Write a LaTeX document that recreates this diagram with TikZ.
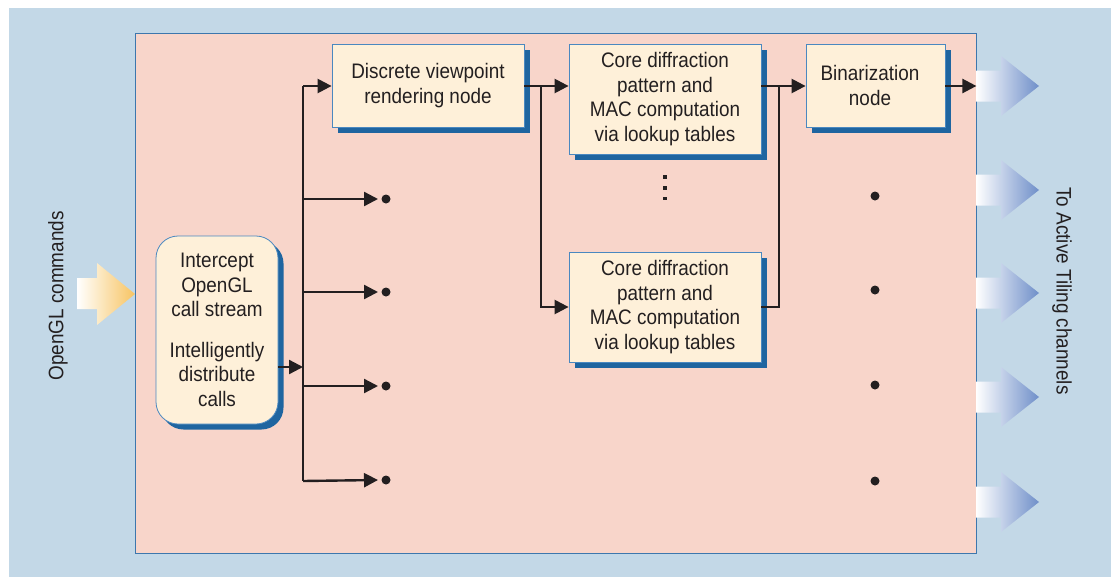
\documentclass[tikz,border=0pt]{standalone}
\usepackage{fontspec}
\setmainfont{Liberation Sans}[FakeStretch=0.9]
\usetikzlibrary{arrows.meta,shadows}

\definecolor{bgside}{HTML}{C3D8E7}
\definecolor{bgmid}{HTML}{DFE9F3}
\definecolor{pinkfill}{HTML}{F8D5CA}
\definecolor{frameline}{HTML}{3D77AD}
\definecolor{cream}{HTML}{FEF0D9}
\definecolor{boxline}{HTML}{4A88C0}
\definecolor{shadowblue}{HTML}{1F65A0}
\definecolor{ink}{HTML}{231F20}
\definecolor{outblue}{HTML}{6F8FC9}
\definecolor{inorange}{HTML}{F7C462}

\tikzset{
  txt/.style={font=\fontsize{21}{24.5}\selectfont, text=ink},
  procbox/.style={txt, draw=boxline, line width=0.8pt, fill=cream, align=center,
    inner sep=0pt,
    general shadow={fill=shadowblue, shadow xshift=5.5pt, shadow yshift=-5.5pt}},
  arr/.style={draw=ink, line width=2.4pt, -{Triangle[length=14pt,width=14pt]}},
  wire/.style={draw=ink, line width=2.4pt},
  dot/.style={circle, fill=ink, inner sep=0pt, minimum size=9pt, outer sep=3.5pt},
  tinydot/.style={fill=ink, inner sep=0pt, minimum size=3.4pt},
}

\begin{document}
\begin{tikzpicture}[x=1pt, y=-1pt]
\useasboundingbox (0,0) rectangle (1111,576);
\fill[white] (0,0) rectangle (1111,576);

% outer panel
\shade[left color=bgside, middle color=bgmid, right color=bgside] (9,8) rectangle (1111,576);

% processing frame
\node[draw=frameline, fill=pinkfill, line width=0.8pt, inner sep=0pt,
      minimum width=841pt, minimum height=520pt] (frame) at (555.5,293) {};

% incoming command arrow
\shade[left color=white, right color=inorange]
  (77,278) -- (97,278) -- (97,263) -- (135,294) -- (97,325) -- (97,309) -- (77,309) -- cycle;
\node[txt, rotate=90] (inlabel) at (58,296) {OpenGL commands};

% outgoing channel arrows
\foreach \cy in {86,190,293,397,502}{
  \shade[left color=white, right color=outblue]
    (976,\cy-15.5) -- (1001,\cy-15.5) -- (1001,\cy-30) -- (1039,\cy)
    -- (1001,\cy+30) -- (1001,\cy+15.5) -- (976,\cy+15.5) -- cycle;
}
\node[txt, rotate=-90] (outlabel) at (1062,291) {To Active Tiling channels};

% processing nodes
\node[procbox, rounded corners=22pt, minimum width=122pt, minimum height=188pt]
  (intercept) at (217,330)
  {Intercept\\OpenGL\\call stream\\[16pt]Intelligently\\distribute\\calls};
\node[procbox, minimum width=192pt, minimum height=83pt]
  (discrete) at (428,85.5) {Discrete viewpoint\\rendering node};
\node[procbox, minimum width=192pt, minimum height=110pt]
  (core1) at (665,99) {Core diffraction\\pattern and\\MAC computation\\via lookup tables};
\node[procbox, minimum width=192pt, minimum height=110pt]
  (core2) at (665,307) {Core diffraction\\pattern and\\MAC computation\\via lookup tables};
\node[procbox, minimum width=139pt, minimum height=83pt]
  (binar) at (875.5,85.5) {\hspace*{-11pt}Binarization\\\hspace*{-11pt}node};

% distribution bus
\coordinate (row) at (0,86);
\coordinate (busTop) at (303,86);
\coordinate (busBot) at (303,481);
\coordinate (feed) at (303,367);
\draw[arr] (intercept.east |- feed) -- (feed);
\draw[wire] (busTop) -- (busBot);
\draw[arr] (busTop) -- (discrete.west |- busTop);

\node[dot] (d1) at (386,199) {};
\node[dot] (d2) at (386,292) {};
\node[dot] (d3) at (386,386) {};
\node[dot] (d4) at (386,480) {};
\foreach \d in {d1,d2,d3}{
  \draw[arr] (busTop |- \d) -- (\d.west);
}
\draw[arr] (busBot) -- (d4.west);

% diffraction stage
\coordinate (split1) at (541,86);
\coordinate (join1) at (779,86);
\draw[arr] (discrete.east |- row) -- (core1.west |- row);
\draw[arr] (split1) |- (core2.west);
\draw[arr] (core1.east |- row) -- (binar.west |- row);
\draw[wire] (join1) |- (core2.east);
\draw[arr] (binar.east |- row) -- (frame.east |- row);

\node[tinydot] (v1) at (665,177) {};
\node[tinydot] (v2) at (665,188) {};
\node[tinydot] (v3) at (665,198.5) {};

% further binarization outputs
\node[dot] (b1) at (875,196) {};
\node[dot] (b2) at (875,290) {};
\node[dot] (b3) at (875,385) {};
\node[dot] (b4) at (875,481) {};
\end{tikzpicture}
\end{document}
